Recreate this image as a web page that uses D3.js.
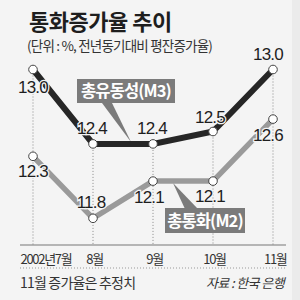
<!DOCTYPE html>
<html><head><meta charset="utf-8">
<script src="https://cdn.jsdelivr.net/npm/d3@7/dist/d3.min.js"></script>
<style>
html,body{margin:0;padding:0;background:#f4f4f4;}
svg{display:block;}
</style></head>
<body>
<script>
// ---- data ----
const months = ["2002년7월", "8월", "9월", "10월", "11월"];
const m3 = [13.0, 12.4, 12.4, 12.5, 13.0];
const m2 = [12.3, 11.8, 12.1, 12.1, 12.6];
const seriesNames = ["총유동성(M3)", "총통화(M2)"];
const title = "통화증가율 추이";
const subtitle = "(단위 : %, 전년동기대비 평잔증가율)";
const note = "11월 증가율은 추정치";
const source = "자료 : 한국 은행";

// ---- layout ----
const W = 300, H = 300;
const svg = d3.select("body").append("svg").attr("width", W).attr("height", H);
svg.append("rect").attr("width", W).attr("height", H).attr("fill", "#f4f4f4");
svg.append("rect").attr("x", 292).attr("width", 8).attr("height", H).attr("fill", "#ebebeb");

const KR = "'Noto Sans CJK KR', sans-serif";
const NUM = "'Liberation Sans Narrow', 'Liberation Sans', Arial, sans-serif";
const BG = "#f4f4f4";

const x = d3.scalePoint().domain(months).range([33, 273]);
const y = d3.scaleLinear().domain([13.0, 11.8]).range([69.5, 218.3]);
const baseY = 245;

// title
svg.append("text").attr("x", 29).attr("y", 30).text(title)
  .attr("font-family", KR).attr("font-weight", 700).attr("font-size", 22)
  .attr("letter-spacing", -0.5).attr("fill", "#1e1e1e");
svg.append("text").attr("x", 27).attr("y", 51).text(subtitle)
  .attr("font-family", KR).attr("font-size", 13.5).attr("letter-spacing", -0.8)
  .attr("fill", "#333");

// dotted verticals
svg.append("g").selectAll("line").data(months).join("line")
  .attr("x1", d => x(d)).attr("x2", d => x(d))
  .attr("y1", (d, i) => y(m3[i])).attr("y2", baseY)
  .attr("stroke", "#888").attr("stroke-width", 1).attr("stroke-dasharray", "1,2");

// axis baseline
svg.append("line").attr("x1", 20).attr("x2", 286).attr("y1", baseY).attr("y2", baseY)
  .attr("stroke", "#777").attr("stroke-width", 1);

// axis labels
const axis = svg.append("g").attr("transform", `translate(0,${baseY})`)
  .call(d3.axisBottom(x).tickSize(0).tickPadding(9));
axis.select(".domain").remove();
axis.selectAll("text")
  .attr("font-family", KR).attr("font-size", 13).attr("letter-spacing", -1.3)
  .attr("fill", "#333").attr("dy", "0.75em")
  .attr("text-anchor", (d, i) => i === 0 ? "start" : (i === months.length - 1 ? "end" : "middle"))
  .attr("dx", (d, i) => i === 0 ? -13 : (i === months.length - 1 ? 13 : 1));

// separator dotted line
svg.append("line").attr("x1", 20).attr("x2", 286).attr("y1", 268).attr("y2", 268)
  .attr("stroke", "#999").attr("stroke-width", 1).attr("stroke-dasharray", "1,2");

svg.append("text").attr("x", 20).attr("y", 288).text(note)
  .attr("font-family", KR).attr("font-size", 14).attr("letter-spacing", -0.8).attr("fill", "#333");
svg.append("text").attr("x", 284).attr("y", 288).text(source).attr("text-anchor", "end")
  .attr("font-family", KR).attr("font-size", 13).attr("font-style", "italic")
  .attr("letter-spacing", -0.6).attr("fill", "#333");

// label pointers (under lines)
const boxFill = "#7b7b7b";
svg.append("path").attr("d", `M102,103 L112,103 L${x(months[2]) - 22},${y(m3[2]) - 2} Z`).attr("fill", boxFill);
svg.append("path").attr("d", `M${x(months[2]) + 20},${y(m2[2]) + 2} L185,209 L198,209 Z`).attr("fill", boxFill);

// lines
const line = d3.line().x((d, i) => x(months[i])).y(d => y(d));
svg.append("path").datum(m2).attr("d", line).attr("fill", "none")
  .attr("stroke", "#9a9a9a").attr("stroke-width", 5.5);
svg.append("path").datum(m3).attr("d", line).attr("fill", "none")
  .attr("stroke", "#262626").attr("stroke-width", 6);

// points
[m3, m2].forEach(s => {
  svg.append("g").selectAll("circle").data(s).join("circle")
    .attr("cx", (d, i) => x(months[i])).attr("cy", d => y(d)).attr("r", 4.3)
    .attr("fill", "#fff").attr("stroke", "#444").attr("stroke-width", 1);
});

// value labels: offsets (dx, dy) from point
const m3Off = [[0, 23.5], [-1, -10], [-1, -10], [-3, -9], [-5, -10]];
const m2Off = [[0, 21], [-2, -10], [-4, 22], [-3, 21], [-5, 22]];
[[m3, m3Off], [m2, m2Off]].forEach(([s, off]) => {
  svg.append("g").selectAll("text").data(s).join("text")
    .attr("x", (d, i) => x(months[i]) + off[i][0])
    .attr("y", (d, i) => y(d) + off[i][1])
    .attr("text-anchor", "middle")
    .text(d => d3.format(".1f")(d))
    .attr("font-family", NUM).attr("font-size", 17).attr("letter-spacing", -0.8)
    .attr("fill", "#1e1e1e")
    .attr("stroke", BG).attr("stroke-width", 2.5).attr("paint-order", "stroke");
});

// series label boxes
const boxes = [
  {name: seriesNames[0], x: 77, y: 79, w: 98, h: 24},
  {name: seriesNames[1], x: 165, y: 208, w: 80, h: 25}
];
boxes.forEach(b => {
  svg.append("rect").attr("x", b.x).attr("y", b.y).attr("width", b.w).attr("height", b.h).attr("fill", boxFill);
  svg.append("text").attr("x", b.x + b.w / 2).attr("y", b.y + b.h / 2 + 6).text(b.name)
    .attr("text-anchor", "middle").attr("font-family", KR).attr("font-weight", 700)
    .attr("font-size", 16.5).attr("letter-spacing", -0.9).attr("fill", "#fff");
});
</script>
</body></html>
